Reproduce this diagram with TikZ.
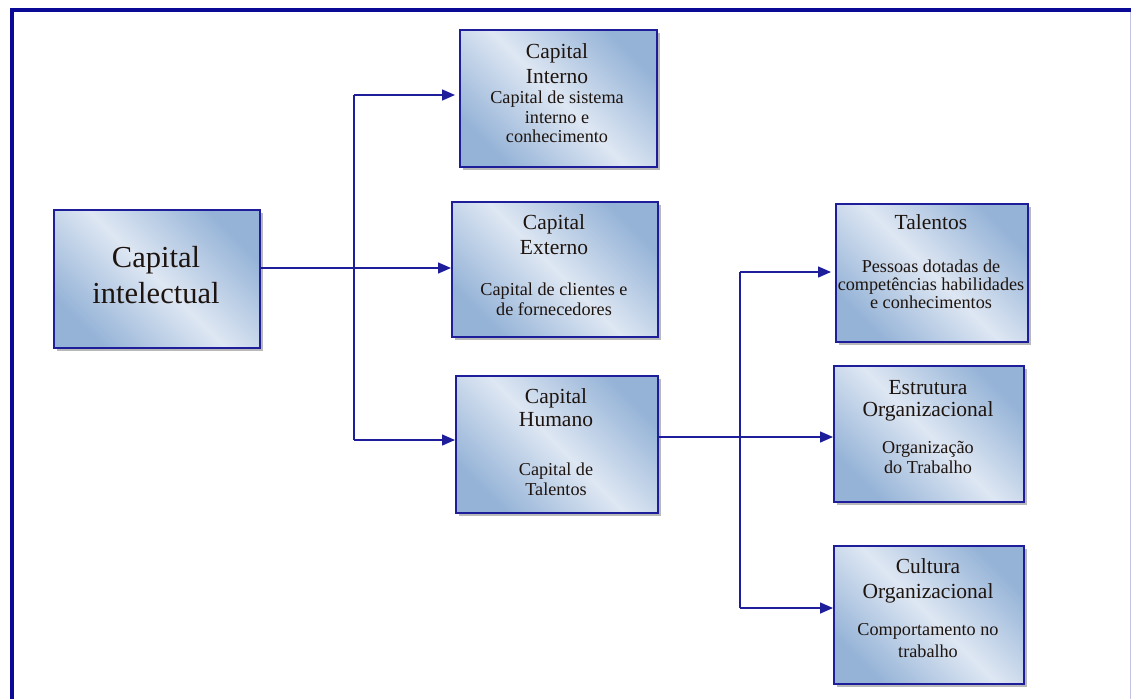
\documentclass[tikz,border=0pt]{standalone}
\usepackage{fontspec}
\setmainfont{Liberation Serif}
\usetikzlibrary{arrows.meta,shadows}
\definecolor{navy}{RGB}{30,30,155}
\definecolor{framec}{RGB}{10,10,150}
\definecolor{bdark}{RGB}{149,179,215}
\definecolor{blight}{RGB}{222,231,243}
\definecolor{txt}{RGB}{30,20,15}
\tikzset{
  cbox/.style={draw=navy, line width=1.6pt, inner sep=0pt, anchor=north west,
    left color=bdark, right color=bdark, middle color=blight, shading angle=-45,
    drop shadow={shadow xshift=3pt, shadow yshift=-3pt, fill=black!50, opacity=0.55}},
  conn/.style={draw=navy, line width=1.5pt},
  arr/.style={conn, -{Triangle[length=13pt,width=11pt]}},
  ttl/.style={anchor=base, inner sep=0pt, text=txt, font=\fontsize{21.5}{25}\selectfont},
  sub/.style={anchor=base, inner sep=0pt, text=txt, font=\fontsize{18.2}{20}\selectfont},
  big/.style={anchor=base, inner sep=0pt, text=txt, font=\fontsize{30.5}{36}\selectfont},
}
\newcommand{\boxat}[5]{\node[cbox, minimum width=#4pt, minimum height=#5pt] (#1) at (#2,-#3) {};}
\begin{document}
\begin{tikzpicture}[x=1pt,y=1pt]
\useasboundingbox (0,0) rectangle (1131,-698);
\clip (0,0) rectangle (1131,-698);
% outer frame
\draw[framec, line width=4pt] (12,-720) -- (12,-10) -- (1140,-10);
\draw[framec!25, line width=1pt] (1130,-12) -- (1130,-720);
% boxes
\boxat{intel}{53}{209}{206}{138}
\boxat{int}{459}{29}{197}{137}
\boxat{ext}{451}{201}{206}{135}
\boxat{hum}{455}{375}{202}{137}
\boxat{tal}{835}{203}{192}{138}
\boxat{est}{833}{365}{190}{136}
\boxat{cul}{833}{545}{190}{138}
% texts
\node[big] (intel1) at (156,-267) {Capital};
\node[big] (intel2) at (156,-303) {intelectual};
\node[ttl] (int1) at (557,-58.5) {Capital};
\node[ttl] (int2) at (557,-83.5) {Interno};
\node[sub] (int3) at (557,-103) {Capital de sistema};
\node[sub] (int4) at (557,-123) {interno e};
\node[sub] (int5) at (557,-142) {conhecimento};
\node[ttl] (ext1) at (554,-229.5) {Capital};
\node[ttl] (ext2) at (554,-254.5) {Externo};
\node[sub] (ext3) at (554,-295) {Capital de clientes e};
\node[sub] (ext4) at (554,-315) {de fornecedores};
\node[ttl] (hum1) at (556,-403.5) {Capital};
\node[ttl] (hum2) at (556,-426.5) {Humano};
\node[sub] (hum3) at (556,-475) {Capital de};
\node[sub] (hum4) at (556,-495) {Talentos};
\node[ttl] (tal1) at (931,-229.5) {Talentos};
\node[sub] (tal2) at (931,-272) {Pessoas dotadas de};
\node[sub] (tal3) at (931,-290) {competências habilidades};
\node[sub] (tal4) at (931,-308) {e conhecimentos};
\node[ttl] (est1) at (928,-394.5) {Estrutura};
\node[ttl] (est2) at (928,-416.5) {Organizacional};
\node[sub] (est3) at (928,-453) {Organização};
\node[sub] (est4) at (928,-473) {do Trabalho};
\node[ttl] (cul1) at (928,-573.5) {Cultura};
\node[ttl] (cul2) at (928,-598.5) {Organizacional};
\node[sub] (cul3) at (928,-635) {Comportamento no};
\node[sub] (cul4) at (928,-657) {trabalho};
% connectors
\coordinate (j1) at (354,-268);
\coordinate (t1) at (354,-95);
\coordinate (t2) at (354,-440);
\draw[arr] (intel.east |- j1) -- (ext.west |- j1);
\draw[conn] (t1) -- (t2);
\draw[arr] (t1) -- ([xshift=-4pt]int.west |- t1);
\draw[arr] (t2) -- (hum.west |- t2);
\coordinate (j2) at (740,-437);
\coordinate (t3) at (740,-272);
\coordinate (t4) at (740,-608);
\draw[arr] (hum.east |- j2) -- (est.west |- j2);
\draw[conn] (t3) -- (t4);
\draw[arr] (t3) -- ([xshift=-4pt]tal.west |- t3);
\draw[arr] (t4) -- (cul.west |- t4);
\end{tikzpicture}
\end{document}
